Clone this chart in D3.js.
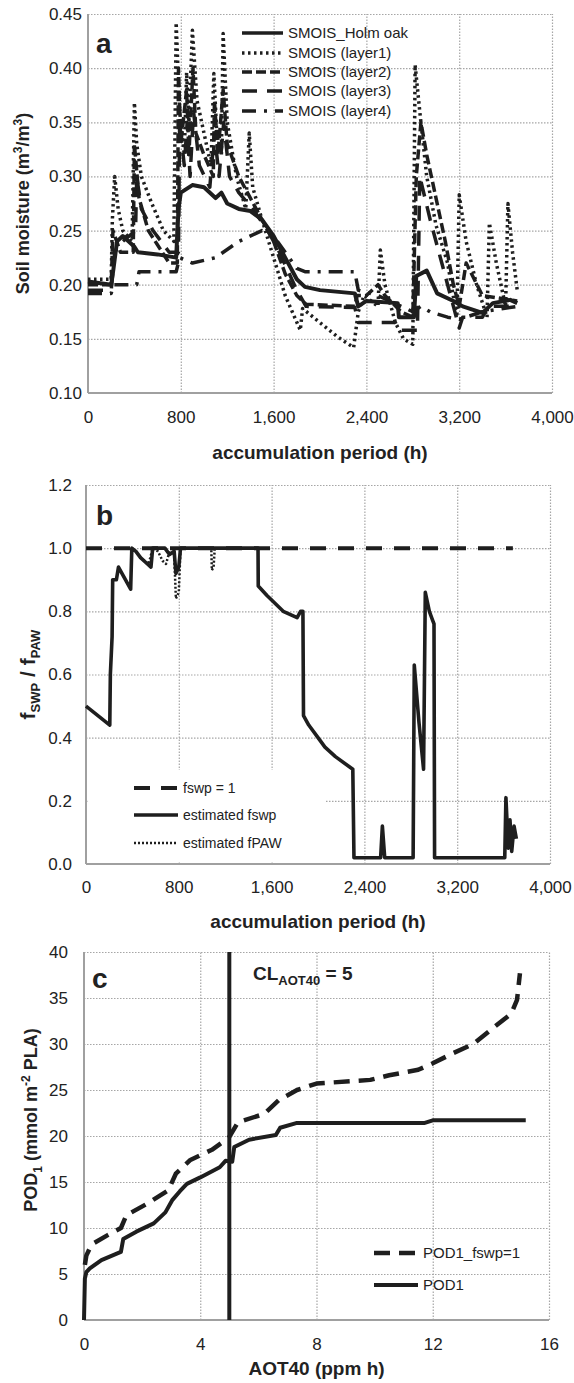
<!DOCTYPE html>
<html>
<head>
<meta charset="utf-8">
<script src="https://cdn.jsdelivr.net/npm/d3@7"></script>
<style>
body { margin: 0; background: #fff; }
text { font-family: "Liberation Sans", Arial, sans-serif; fill: #222; }
</style>
</head>
<body>
<svg id="chart" width="574" height="1383"></svg>
<script>
// ---- panel a : soil moisture (hours, m3/m3) ----
var hourTicks = [0, 800, 1600, 2400, 3200, 4000];
var smoisTicks = [0.10, 0.15, 0.20, 0.25, 0.30, 0.35, 0.40, 0.45];

var smoisHolmOak = [[0,0.203],[200,0.200],[220,0.215],[250,0.240],[300,0.245],[400,0.235],[430,0.230],[600,0.228],[760,0.225],[780,0.270],[800,0.285],[900,0.292],[1000,0.290],[1100,0.280],[1150,0.285],[1200,0.275],[1300,0.270],[1400,0.268],[1500,0.260],[1600,0.245],[1700,0.225],[1800,0.205],[1870,0.198],[2000,0.195],[2300,0.192],[2330,0.180],[2400,0.185],[2670,0.183],[2680,0.170],[2810,0.170],[2830,0.208],[2920,0.213],[3010,0.192],[3150,0.185],[3230,0.180],[3400,0.174],[3490,0.183],[3640,0.186],[3700,0.183]];
var smoisLayer1 = [[0,0.205],[200,0.205],[210,0.260],[230,0.300],[260,0.270],[300,0.250],[380,0.240],[400,0.368],[420,0.330],[460,0.300],[550,0.275],[650,0.250],[740,0.240],[760,0.442],[790,0.360],[830,0.320],[850,0.396],[870,0.350],[900,0.435],[940,0.370],[1000,0.340],[1060,0.310],[1085,0.395],[1110,0.340],[1150,0.320],[1165,0.432],[1200,0.350],[1280,0.300],[1360,0.270],[1390,0.340],[1420,0.290],[1500,0.260],[1600,0.225],[1700,0.190],[1830,0.158],[1850,0.178],[2000,0.165],[2150,0.152],[2290,0.142],[2330,0.175],[2380,0.190],[2500,0.180],[2520,0.232],[2560,0.200],[2650,0.165],[2720,0.150],[2800,0.145],[2820,0.403],[2860,0.360],[2920,0.300],[3000,0.255],[3100,0.220],[3180,0.170],[3200,0.283],[3260,0.240],[3350,0.200],[3440,0.170],[3460,0.257],[3520,0.220],[3600,0.180],[3620,0.275],[3660,0.230],[3700,0.195]];
var smoisLayer2 = [[0,0.200],[200,0.200],[215,0.250],[280,0.230],[390,0.230],[400,0.330],[440,0.280],[520,0.250],[700,0.220],[770,0.220],[780,0.400],[800,0.330],[850,0.380],[870,0.320],[905,0.400],[930,0.340],[1000,0.320],[1080,0.300],[1090,0.370],[1120,0.320],[1165,0.380],[1200,0.330],[1300,0.300],[1400,0.280],[1500,0.260],[1600,0.240],[1700,0.210],[1800,0.190],[1880,0.182],[2300,0.180],[2320,0.190],[2400,0.190],[2500,0.200],[2560,0.190],[2700,0.175],[2800,0.170],[2830,0.300],[2870,0.350],[2920,0.320],[3000,0.280],[3080,0.240],[3150,0.200],[3200,0.180],[3260,0.220],[3400,0.190],[3700,0.185]];
var smoisLayer3 = [[0,0.195],[200,0.195],[230,0.230],[300,0.240],[410,0.250],[420,0.300],[460,0.270],[560,0.250],[700,0.230],[780,0.230],[790,0.350],[830,0.310],[855,0.350],[880,0.300],[910,0.360],[960,0.310],[1050,0.290],[1090,0.340],[1130,0.300],[1170,0.350],[1220,0.300],[1300,0.285],[1420,0.270],[1550,0.250],[1650,0.230],[1800,0.195],[1880,0.180],[2300,0.179],[2330,0.165],[2650,0.165],[2680,0.158],[2840,0.158],[2860,0.300],[2950,0.260],[3050,0.220],[3150,0.180],[3200,0.160],[3230,0.170],[3400,0.170],[3450,0.180],[3700,0.180]];
var smoisLayer4 = [[0,0.192],[200,0.192],[220,0.200],[420,0.200],[440,0.212],[760,0.212],[790,0.225],[900,0.220],[1100,0.225],[1300,0.240],[1500,0.250],[1600,0.245],[1700,0.230],[1800,0.215],[1870,0.212],[2300,0.212],[2330,0.195],[2500,0.190],[2700,0.180],[2800,0.175],[2870,0.180],[2950,0.175],[3100,0.170],[3200,0.168],[3400,0.175],[3700,0.180]];
var legendA = ["SMOIS_Holm oak", "SMOIS (layer1)", "SMOIS (layer2)", "SMOIS (layer3)", "SMOIS (layer4)"];

// ---- panel b : fswp / fPAW ----
var fTicks = [0, 0.2, 0.4, 0.6, 0.8, 1.0, 1.2];
var fswpOne = [[0,1],[3680,1]];
var fswpEstimated = [[0,0.50],[205,0.44],[210,0.60],[225,0.72],[230,0.90],[262,0.90],[280,0.94],[385,0.87],[395,1.0],[430,0.99],[470,0.97],[530,0.95],[560,0.94],[575,1.0],[680,1.0],[720,0.98],[760,0.99],[775,0.92],[800,0.94],[815,1.0],[1483,1.0],[1485,0.88],[1560,0.85],[1700,0.80],[1820,0.78],[1850,0.80],[1870,0.80],[1875,0.47],[1920,0.44],[2000,0.40],[2060,0.37],[2150,0.34],[2300,0.30],[2310,0.02],[2540,0.02],[2555,0.12],[2575,0.02],[2820,0.02],[2830,0.63],[2870,0.45],[2910,0.30],[2925,0.86],[2960,0.80],[2990,0.77],[3000,0.76],[3005,0.02],[3610,0.02],[3620,0.21],[3640,0.05],[3655,0.14],[3670,0.04],[3690,0.12],[3710,0.08]];
var fpawEstimated = [[395,1.0],[430,0.99],[470,0.97],[540,0.95],[575,1.0],[620,0.99],[660,0.96],[690,0.95],[720,0.99],[760,0.98],[775,0.84],[800,0.86],[815,1.0],[1080,1.0],[1085,0.93],[1100,0.94],[1110,1.0],[1483,1.0]];
var legendB = ["fswp = 1", "estimated fswp", "estimated fPAW"];

// ---- panel c : POD1 vs AOT40 ----
var aotTicks = [0, 4, 8, 12, 16];
var podTicks = [0, 5, 10, 15, 20, 25, 30, 35, 40];
var clAot40 = 5;
var pod1 = [[0,0],[0.03,4.5],[0.08,5.2],[0.2,5.6],[0.6,6.5],[1.27,7.4],[1.35,8.8],[1.8,9.6],[2.4,10.5],[2.8,11.7],[3.03,13.0],[3.3,14.0],[3.54,14.8],[4.0,15.5],[4.67,16.6],[4.87,17.3],[5.1,17.2],[5.17,18.8],[5.68,19.6],[6.6,20.1],[6.75,20.9],[7.3,21.4],[11.7,21.4],[12.0,21.7],[15.2,21.7]];
var pod1Fswp1 = [[0.03,6.0],[0.08,7.0],[0.26,8.2],[0.8,9.2],[1.27,10.0],[1.46,11.4],[2.15,12.6],[2.9,14.1],[3.16,15.9],[3.66,17.4],[4.4,18.5],[4.98,19.8],[5.3,21.5],[6.2,22.4],[6.7,23.9],[7.33,25.0],[8.0,25.7],[9.85,26.1],[10.5,26.6],[11.5,27.2],[12.0,27.9],[12.7,29.0],[13.4,30.0],[14.1,31.8],[14.7,33.3],[14.9,34.8],[15.0,37.7]];
var legendC = ["POD1_fswp=1", "POD1"];

var svg = d3.select("#chart"),
    ink = "#1e1e1e";

function panel(p) {
    var x = d3.scaleLinear().domain(p.xDomain).range([p.left, p.right]);
    var y = d3.scaleLinear().domain(p.yDomain).range([p.bottom, p.top]);
    var g = svg.append("g");

    // dotted grid
    var gx = g.append("g").attr("transform", "translate(0," + p.bottom + ")")
        .call(d3.axisBottom(x).tickValues(p.xTicks.slice(1)).tickSize(-(p.bottom - p.top)).tickFormat(""));
    var gy = g.append("g").attr("transform", "translate(" + p.left + ",0)")
        .call(d3.axisLeft(y).tickValues(p.yTicks.slice(1)).tickSize(-(p.right - p.left)).tickFormat(""));
    [gx, gy].forEach(function (s) {
        s.select(".domain").remove();
        s.selectAll("line").attr("stroke", "#a6a6a6").attr("stroke-width", 1.2).attr("stroke-dasharray", "1.5,1.5");
    });

    // solid left / bottom axes
    g.append("line").attr("x1", p.left).attr("x2", p.left).attr("y1", p.top).attr("y2", p.bottom)
        .attr("stroke", "#a0a0a0").attr("stroke-width", 2);
    g.append("line").attr("x1", p.left).attr("x2", p.right).attr("y1", p.bottom).attr("y2", p.bottom)
        .attr("stroke", "#a0a0a0").attr("stroke-width", 2);

    // tick labels
    var ax = g.append("g").attr("transform", "translate(0," + p.bottom + ")")
        .call(d3.axisBottom(x).tickValues(p.xTicks).tickSize(0).tickPadding(p.xPad).tickFormat(p.xFormat));
    var ay = g.append("g").attr("transform", "translate(" + p.left + ",0)")
        .call(d3.axisLeft(y).tickValues(p.yTicks).tickSize(0).tickPadding(p.yPad).tickFormat(p.yFormat));
    [ax, ay].forEach(function (s) {
        s.select(".domain").remove();
        s.selectAll("text").attr("font-size", 17).attr("font-family", "Liberation Sans, Arial, sans-serif").attr("fill", "#222");
    });

    // x title
    g.append("text").attr("x", (p.left + p.right) / 2).attr("y", p.xTitleY)
        .attr("text-anchor", "middle").attr("font-size", 19).attr("font-weight", "bold").text(p.xTitle);

    // panel letter
    g.append("text").attr("x", p.letterX).attr("y", p.letterY)
        .attr("font-size", 28).attr("font-weight", "bold").text(p.letter);

    return { x: x, y: y, g: g };
}

function drawLine(pn, data, width, dash) {
    var line = d3.line().x(function (d) { return pn.x(d[0]); }).y(function (d) { return pn.y(d[1]); });
    pn.g.append("path").datum(data)
        .attr("d", line)
        .attr("fill", "none")
        .attr("stroke", ink)
        .attr("stroke-width", width)
        .attr("stroke-linejoin", "round")
        .attr("stroke-dasharray", dash || null);
}

function legendRow(g, x1, x2, y, width, dash, label, size) {
    g.append("line").attr("x1", x1).attr("x2", x2).attr("y1", y).attr("y2", y)
        .attr("stroke", ink).attr("stroke-width", width).attr("stroke-dasharray", dash || null);
    g.append("text").attr("x", x2 + 5).attr("y", y).attr("dy", "0.35em")
        .attr("font-size", size).text(label);
}

// ---------- panel a ----------
var pa = panel({
    xDomain: [0, 4000], yDomain: [0.10, 0.45],
    left: 88, right: 552, top: 14, bottom: 393,
    xTicks: hourTicks, yTicks: smoisTicks,
    xFormat: d3.format(","), yFormat: d3.format(".2f"),
    xPad: 18, yPad: 6,
    xTitle: "accumulation period (h)", xTitleY: 459,
    letter: "a", letterX: 96, letterY: 53
});

var styleA = [
    { data: smoisLayer4, w: 3.5, dash: "14,8,3,8" },
    { data: smoisLayer3, w: 3.5, dash: "15,10" },
    { data: smoisLayer2, w: 3.5, dash: "10,4" },
    { data: smoisLayer1, w: 3.5, dash: "2.5,3.5" },
    { data: smoisHolmOak, w: 4, dash: null }
];
styleA.forEach(function (s) { drawLine(pa, s.data, s.w, s.dash); });

var legA = [styleA[4], styleA[3], styleA[2], styleA[1], styleA[0]];
var legARows = [33, 53, 72, 91, 111];
legA.forEach(function (s, i) {
    legendRow(pa.g, 242, 283, legARows[i], 3.5, s.dash, legendA[i], 15);
});

pa.g.append("text")
    .attr("transform", "translate(29," + ((14 + 393) / 2) + ") rotate(-90)")
    .attr("text-anchor", "middle").attr("font-size", 18).attr("font-weight", "bold")
    .call(function (t) {
        t.append("tspan").text("Soil moisture (m");
        t.append("tspan").attr("font-size", 12).attr("dy", -7).text("3");
        t.append("tspan").attr("dy", 7).text("/m");
        t.append("tspan").attr("font-size", 12).attr("dy", -7).text("3");
        t.append("tspan").attr("dy", 7).text(")");
    });

// ---------- panel b ----------
var pb = panel({
    xDomain: [0, 4000], yDomain: [0, 1.2],
    left: 86, right: 550, top: 485, bottom: 864,
    xTicks: hourTicks, yTicks: fTicks,
    xFormat: d3.format(","), yFormat: d3.format(".1f"),
    xPad: 17, yPad: 14,
    xTitle: "accumulation period (h)", xTitleY: 928,
    letter: "b", letterX: 96, letterY: 525
});

drawLine(pb, fpawEstimated, 2.5, "2,2");
drawLine(pb, fswpOne, 4, "16,12");
drawLine(pb, fswpEstimated, 3.6, null);

pb.g.append("rect").attr("x", 89).attr("y", 770).attr("width", 237).attr("height", 92).attr("fill", "#fff");
legendRow(pb.g, 134, 178, 788, 4, "16,11", legendB[0], 14);
legendRow(pb.g, 134, 178, 815, 3.6, null, legendB[1], 14);
legendRow(pb.g, 134, 178, 843, 2.5, "2,2", legendB[2], 14);

pb.g.append("text")
    .attr("transform", "translate(35," + ((485 + 864) / 2) + ") rotate(-90)")
    .attr("text-anchor", "middle").attr("font-size", 21).attr("font-weight", "bold")
    .call(function (t) {
        t.append("tspan").text("f");
        t.append("tspan").attr("font-size", 13).attr("dy", 5).text("SWP");
        t.append("tspan").attr("dy", -5).text(" / f");
        t.append("tspan").attr("font-size", 13).attr("dy", 5).text("PAW");
    });

// ---------- panel c ----------
var pc = panel({
    xDomain: [0, 16], yDomain: [0, 40],
    left: 84, right: 549, top: 952, bottom: 1320,
    xTicks: aotTicks, yTicks: podTicks,
    xFormat: d3.format("d"), yFormat: d3.format("d"),
    xPad: 18, yPad: 16,
    xTitle: "AOT40 (ppm h)", xTitleY: 1375,
    letter: "c", letterX: 92, letterY: 988
});

pc.g.append("line")
    .attr("x1", pc.x(clAot40)).attr("x2", pc.x(clAot40))
    .attr("y1", pc.y(0)).attr("y2", pc.y(40))
    .attr("stroke", ink).attr("stroke-width", 4);

drawLine(pc, pod1Fswp1, 4.5, "16,9");
drawLine(pc, pod1, 4, null);

pc.g.append("text").attr("x", 253).attr("y", 980).attr("font-size", 19).attr("font-weight", "bold")
    .call(function (t) {
        t.append("tspan").text("CL");
        t.append("tspan").attr("font-size", 13).attr("dy", 5).text("AOT40");
        t.append("tspan").attr("dy", -5).text(" = 5");
    });

legendRow(pc.g, 374, 418, 1253, 4.5, "16,9", legendC[0], 15);
legendRow(pc.g, 374, 418, 1285, 4, null, legendC[1], 15);

pc.g.append("text")
    .attr("transform", "translate(37,1120) rotate(-90)")
    .attr("text-anchor", "middle").attr("font-size", 18).attr("font-weight", "bold")
    .call(function (t) {
        t.append("tspan").text("POD");
        t.append("tspan").attr("font-size", 12).attr("dy", 5).text("1");
        t.append("tspan").attr("dy", -5).text(" (mmol m");
        t.append("tspan").attr("font-size", 12).attr("dy", -7).text("-2");
        t.append("tspan").attr("dy", 7).text(" PLA)");
    });
</script>
</body>
</html>
